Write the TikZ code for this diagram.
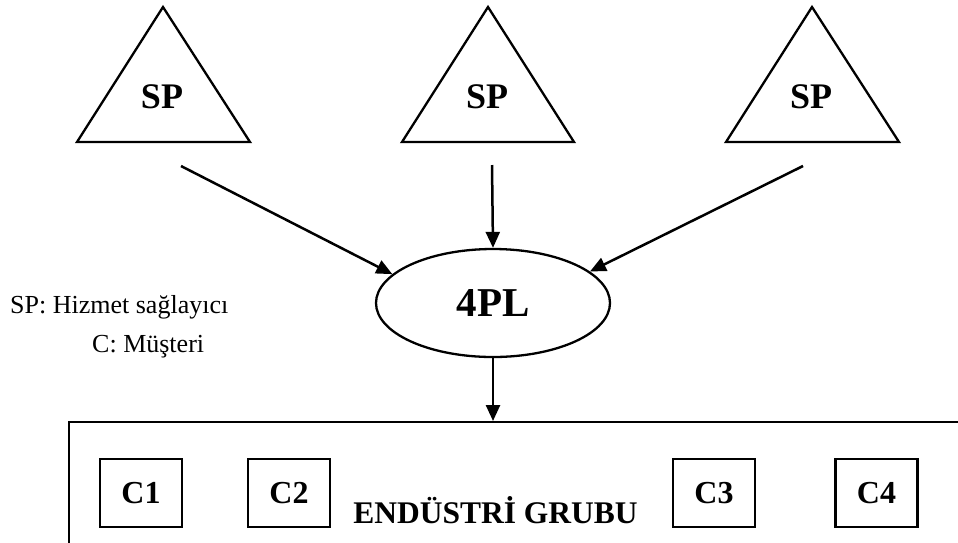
\documentclass[tikz,border=0pt]{standalone}
\usepackage{fontspec}
\setmainfont{Liberation Serif}
\usetikzlibrary{arrows.meta,shapes.geometric}
\tikzset{
  tri/.style={line width=2.3pt, line join=miter},
  sptext/.style={font=\fontsize{36}{40}\selectfont\bfseries, inner sep=0pt},
  link/.style={line width=2.5pt, -{Triangle[length=16pt,width=14pt]}},
  cbox/.style={draw, line width=2.3pt, minimum width=82pt, minimum height=68pt, inner sep=0pt,
    font=\fontsize{32}{36}\selectfont\bfseries},
  legend/.style={font=\fontsize{26}{30}\selectfont, inner sep=0pt, anchor=base west}
}
\begin{document}
\begin{tikzpicture}[x=1pt,y=-1pt]
\useasboundingbox (0,0) rectangle (958,542);
% triangles
\draw[tri] (163,7) -- (250,142) -- (77,142) -- cycle;
\draw[tri] (488,7) -- (574,142) -- (402,142) -- cycle;
\draw[tri] (812,7) -- (899,142) -- (726,142) -- cycle;
\node[sptext] (sp1) at (162,97) {SP};
\node[sptext] (sp2) at (487,97) {SP};
\node[sptext] (sp3) at (811,97) {SP};
\coordinate (s1) at (181,166);
\coordinate (s2) at (492,165);
\coordinate (s3) at (803,166);
% 4PL
\node[draw, ellipse, line width=2.3pt, minimum width=234pt, minimum height=108pt, inner sep=0pt,
  font=\fontsize{41}{44}\selectfont\bfseries] (pl) at (493,303) {4PL};
% group box
\begin{scope}
\clip (0,0) rectangle (958,542);
\node[draw, line width=2.3pt, minimum width=1000pt, minimum height=200pt, anchor=north west, inner sep=0pt] (grp) at (68,421) {};
\end{scope}
\node[cbox] (c1) at (141,493) {C1};
\node[cbox] (c2) at (289,493) {C2};
\node[cbox] (c3) at (714,493) {C3};
\node[cbox] (c4) at (876.5,493) {C4};
\node[font=\fontsize{31.5}{34}\selectfont\bfseries, inner sep=0pt, anchor=base] (eg) at (495.5,523) {ENDÜSTRİ GRUBU};
% legend
\node[legend] (l1) at (10,313) {SP: Hizmet sağlayıcı};
\node[legend] (l2) at (92,352) {C: Müşteri};
% arrows
\draw[link] (s1) -- (pl.164);
\draw[link] (s2) -- (pl.north);
\draw[link] (s3) -- (pl.18);
\draw[link] (pl.south) -- (pl.south |- grp.north);
\end{tikzpicture}
\end{document}
